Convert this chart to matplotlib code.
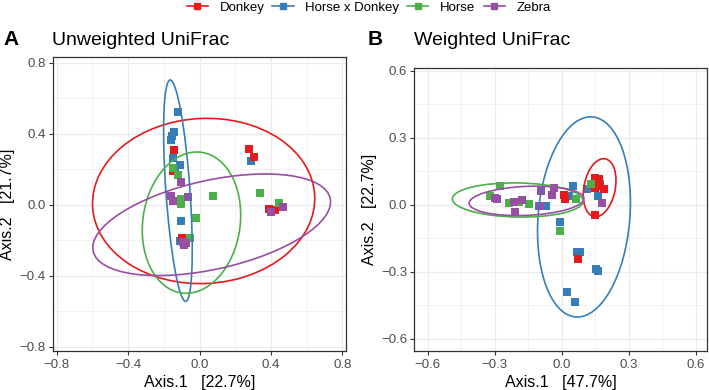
import matplotlib
matplotlib.use("Agg")
import matplotlib.pyplot as plt
from matplotlib.patches import Ellipse
from matplotlib.lines import Line2D
from matplotlib.ticker import MultipleLocator, FuncFormatter

plt.rcParams['font.family'] = ['Liberation Sans', 'DejaVu Sans']

groups = ["Donkey", "Horse x Donkey", "Horse", "Zebra"]
colors = ["#E41A1C", "#377EB8", "#4DAF4A", "#984EA3"]

# ---- Panel A: Unweighted UniFrac ----
a_donkey_x = [-0.145, -0.149, 0.278, 0.303, 0.389, 0.424, -0.099]
a_donkey_y = [0.306, 0.190, 0.314, 0.269, -0.023, -0.032, -0.188]
a_hxd_x = [-0.123, -0.141, -0.155, -0.159, -0.151, -0.112, -0.136, -0.103, -0.108, 0.290]
a_hxd_y = [0.520, 0.407, 0.389, 0.366, 0.263, 0.225, 0.201, -0.094, -0.207, 0.248]
a_horse_x = [-0.151, -0.118, -0.103, -0.101, 0.075, -0.018, -0.052, 0.336, 0.443]
a_horse_y = [0.205, 0.169, 0.032, 0.006, 0.047, -0.073, -0.188, 0.066, 0.010]
a_zebra_x = [-0.103, -0.159, -0.151, -0.065, -0.093, -0.086, -0.075, 0.402, 0.465]
a_zebra_y = [0.130, 0.047, 0.019, 0.041, -0.212, -0.225, -0.216, -0.043, -0.015]

# ellipse params per group: center x, center y, width, height, angle
a_ell_cx = [0.023, -0.121, -0.045, 0.068]
a_ell_cy = [0.021, 0.079, -0.101, -0.113]
a_ell_w = [1.245, 1.25, 0.80, 1.36]
a_ell_h = [0.93, 0.135, 0.545, 0.50]
a_ell_ang = [3.0, 94.0, 82.0, 12.7]

# ---- Panel B: Weighted UniFrac ----
b_donkey_x = [0.009, 0.012, 0.148, 0.166, 0.144, 0.170, 0.188, 0.150, 0.147, 0.072]
b_donkey_y = [0.045, 0.026, 0.120, 0.116, 0.090, 0.085, 0.071, 0.075, -0.048, -0.243]
b_hxd_x = [0.048, 0.031, -0.069, -0.101, -0.006, 0.066, 0.081, 0.152, 0.161, 0.021, 0.060, 0.111, 0.169, 0.161]
b_hxd_y = [0.085, 0.037, -0.008, -0.008, -0.078, -0.213, -0.213, -0.287, -0.297, -0.393, -0.438, 0.071, 0.094, 0.037]
b_horse_x = [-0.278, -0.320, -0.238, -0.193, -0.148, 0.065, -0.006, 0.129]
b_horse_y = [0.082, 0.040, 0.008, 0.010, 0.004, 0.026, -0.116, 0.094]
b_zebra_x = [-0.290, -0.215, -0.178, -0.208, -0.092, -0.036, -0.046, 0.181, -0.096, -0.300]
b_zebra_y = [0.026, 0.010, 0.022, -0.035, 0.063, 0.075, 0.045, 0.008, -0.008, 0.030]

b_ell_cx = [0.169, 0.099, -0.197, -0.158]
b_ell_cy = [0.076, -0.055, 0.021, 0.017]
b_ell_w = [0.264, 0.90, 0.585, 0.513]
b_ell_h = [0.14, 0.41, 0.153, 0.13]
b_ell_ang = [79.0, 85.2, -1.0, 2.5]

W, H = 709, 390
fig = plt.figure(figsize=(W / 100, H / 100), dpi=100)

def px_axes(l, t, r, b):
    return fig.add_axes([l / W, 1 - b / H, (r - l) / W, (b - t) / H])

axA = px_axes(52.7, 57, 346, 351)
axB = px_axes(414, 67.7, 707, 351)

fmt = FuncFormatter(lambda v, p: f"{v:.1f}".replace("-", "\u2212"))

def style(ax, lim_x, lim_y, major, xlab, ylab):
    ax.set_xlim(*lim_x)
    ax.set_ylim(*lim_y)
    ax.xaxis.set_major_locator(MultipleLocator(major))
    ax.yaxis.set_major_locator(MultipleLocator(major))
    ax.xaxis.set_minor_locator(MultipleLocator(major / 2))
    ax.yaxis.set_minor_locator(MultipleLocator(major / 2))
    ax.xaxis.set_major_formatter(fmt)
    ax.yaxis.set_major_formatter(fmt)
    ax.grid(which='major', color='#EBEBEB', linewidth=0.8, zorder=0)
    ax.grid(which='minor', color='#EBEBEB', linewidth=0.45, zorder=0)
    ax.set_axisbelow(True)
    for s in ax.spines.values():
        s.set_color('#333333')
        s.set_linewidth(0.9)
    ax.tick_params(which='major', length=3, width=0.8, color='#333333',
                   labelsize=9.5, labelcolor='#4D4D4D', pad=2)
    ax.tick_params(axis='x', which='major', pad=3)
    ax.tick_params(which='minor', length=0)
    ax.set_xlabel(xlab, fontsize=11.5, labelpad=3)
    ax.set_ylabel(ylab, fontsize=11.5, labelpad=3)

style(axA, (-0.822, 0.82), (-0.824, 0.832), 0.4,
      "Axis.1   [22.7%]", "Axis.2   [21.7%]")
style(axB, (-0.661, 0.649), (-0.656, 0.614), 0.3,
      "Axis.1   [47.7%]", "Axis.2   [22.7%]")

a_pts = [(a_donkey_x, a_donkey_y), (a_hxd_x, a_hxd_y), (a_horse_x, a_horse_y), (a_zebra_x, a_zebra_y)]
b_pts = [(b_donkey_x, b_donkey_y), (b_hxd_x, b_hxd_y), (b_horse_x, b_horse_y), (b_zebra_x, b_zebra_y)]

draw_order = [1, 0, 2, 3]
for ax, pts in ((axA, a_pts), (axB, b_pts)):
    for i in draw_order:
        x, y = pts[i]
        ax.scatter(x, y, marker='s', s=30, color=colors[i], linewidths=0, zorder=3)

for ax, cx, cy, w, h, ang in ((axA, a_ell_cx, a_ell_cy, a_ell_w, a_ell_h, a_ell_ang),
                              (axB, b_ell_cx, b_ell_cy, b_ell_w, b_ell_h, b_ell_ang)):
    for i in range(4):
        ax.add_patch(Ellipse((cx[i], cy[i]), w[i], h[i], angle=ang[i], fill=False,
                             edgecolor=colors[i], linewidth=1.2, zorder=4))

# Titles and panel letters
fig.text(3 / W, 1 - 45 / H, "A", fontsize=15, fontweight='bold', va='baseline')
fig.text(52 / W, 1 - 45 / H, "Unweighted UniFrac", fontsize=14, va='baseline')
fig.text(368 / W, 1 - 45 / H, "B", fontsize=15, fontweight='bold', va='baseline')
fig.text(414 / W, 1 - 45 / H, "Weighted UniFrac", fontsize=14, va='baseline')

handles = [Line2D([0], [0], color=c, marker='s', markersize=4.5, linewidth=1.2) for c in colors]
fig.legend(handles, groups, loc='center left', bbox_to_anchor=(186.7 / W, 1 - 8 / H), ncol=4,
           frameon=False, fontsize=9.5, handlelength=1.6, handletextpad=0.9,
           columnspacing=0.6, borderaxespad=0, borderpad=0)

fig.savefig("out.png", dpi=100)
